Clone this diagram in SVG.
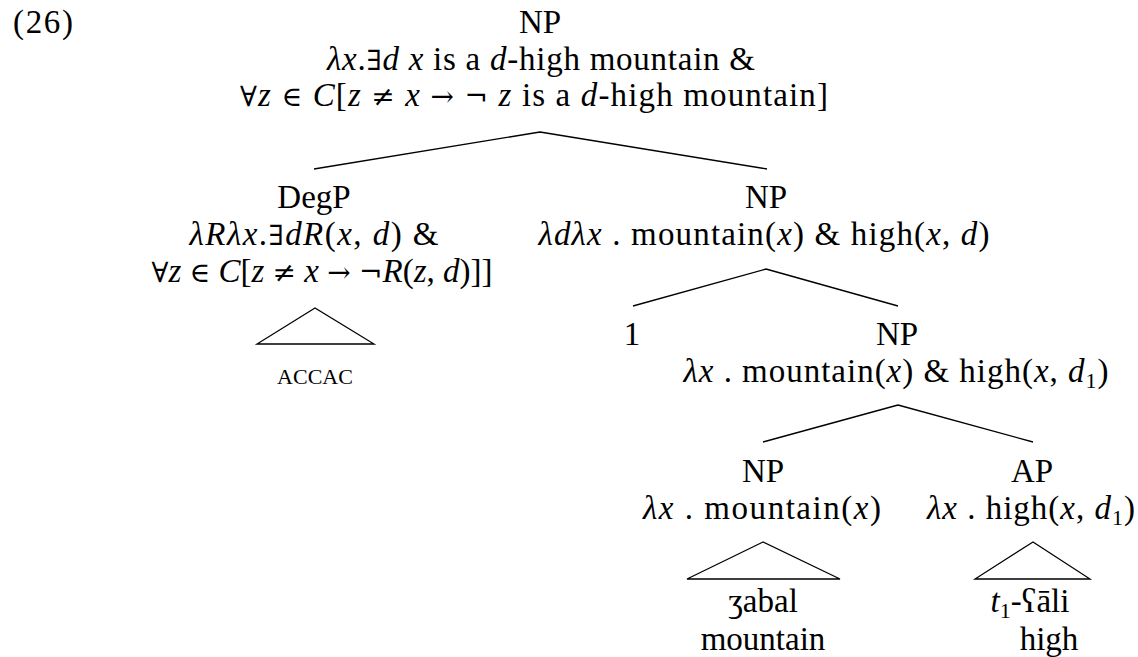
<svg xmlns="http://www.w3.org/2000/svg" width="1138" height="657" viewBox="0 0 1138 657">
<style>
text{font-family:"Liberation Serif","DejaVu Serif",serif;font-size:33px;fill:#000;text-anchor:middle}
.m{font-family:"DejaVu Serif","Liberation Serif",serif;font-size:28px}
.i{font-style:italic}
.sub{font-size:22px}
.sc{font-size:22px}
.edge{stroke:#000;stroke-width:1.3;fill:none}
.tri{stroke:#000;stroke-width:1.3;fill:none;stroke-linejoin:miter}
</style>
<rect width="1138" height="657" fill="#fff"/>
<text x="13" y="33" style="text-anchor:start" textLength="60" lengthAdjust="spacing">(26)</text>
<g id="connectors">
<path class="edge" d="M540 132 L314 169 M540 132 L767 169"/>
<path class="edge" d="M766 269 L633 306 M766 269 L898 306"/>
<path class="edge" d="M898 405 L763 442 M898 405 L1033 442"/>
<path class="tri" d="M315 308 L257 344 L374 344 Z"/>
<path class="tri" d="M763 542 L687 579 L840 579 Z"/>
<path class="tri" d="M1033 542 L975 579 L1090 579 Z"/>
</g>
<g id="root">
<text x="540" y="33">NP</text>
<text x="541" y="70" textLength="428" lengthAdjust="spacing"><tspan class="i">λx</tspan>.<tspan class="m">∃</tspan><tspan class="i">d x</tspan> is a <tspan class="i">d</tspan>-high mountain &amp;</text>
<text x="534" y="106" textLength="588" lengthAdjust="spacing"><tspan class="m">∀</tspan><tspan class="i">z</tspan> <tspan class="m">∈</tspan> <tspan class="i">C</tspan>[<tspan class="i">z</tspan> <tspan class="m">≠</tspan> <tspan class="i">x</tspan> <tspan class="m">→</tspan> <tspan class="m">¬</tspan> <tspan class="i">z</tspan> is a <tspan class="i">d</tspan>-high mountain]</text>
</g>
<g id="degp">
<text x="314" y="208">DegP</text>
<text x="314" y="245" textLength="249" lengthAdjust="spacing"><tspan class="i">λRλx</tspan>.<tspan class="m">∃</tspan><tspan class="i">dR</tspan>(<tspan class="i">x</tspan>, <tspan class="i">d</tspan>) &amp;</text>
<text x="322" y="282" textLength="341" lengthAdjust="spacing"><tspan class="m">∀</tspan><tspan class="i">z</tspan> <tspan class="m">∈</tspan> <tspan class="i">C</tspan>[<tspan class="i">z</tspan> <tspan class="m">≠</tspan> <tspan class="i">x</tspan> <tspan class="m">→</tspan> <tspan class="m">¬</tspan><tspan class="i">R</tspan>(<tspan class="i">z</tspan>, <tspan class="i">d</tspan>)]]</text>
</g>
<g id="accac">
<text class="sc" x="315" y="384">ACCAC</text>
</g>
<g id="np1">
<text x="766" y="208">NP</text>
<text x="764" y="245" textLength="451" lengthAdjust="spacing"><tspan class="i">λdλx</tspan> . mountain(<tspan class="i">x</tspan>) &amp; high(<tspan class="i">x</tspan>, <tspan class="i">d</tspan>)</text>
</g>
<g id="one">
<text x="632" y="345">1</text>
</g>
<g id="np2">
<text x="897" y="345">NP</text>
<text x="896" y="382" textLength="425" lengthAdjust="spacing"><tspan class="i">λx</tspan> . mountain(<tspan class="i">x</tspan>) &amp; high(<tspan class="i">x</tspan>, <tspan class="i">d</tspan><tspan class="sub" dy="6">1</tspan><tspan dy="-6">)</tspan></text>
</g>
<g id="np3">
<text x="763" y="482">NP</text>
<text x="762" y="519" textLength="238" lengthAdjust="spacing"><tspan class="i">λx</tspan> . mountain(<tspan class="i">x</tspan>)</text>
</g>
<g id="ap">
<text x="1032" y="482">AP</text>
<text x="1031" y="519" textLength="208" lengthAdjust="spacing"><tspan class="i">λx</tspan> . high(<tspan class="i">x</tspan>, <tspan class="i">d</tspan><tspan class="sub" dy="6">1</tspan><tspan dy="-6">)</tspan></text>
</g>
<g id="leaf-zabal">
<text x="763" y="612">ʒabal</text>
<text x="763" y="650">mountain</text>
</g>
<g id="leaf-ali">
<text x="1030" y="612"><tspan class="i">t</tspan><tspan class="sub" dy="6">1</tspan><tspan dy="-6">-ʕāli</tspan></text>
<text x="1049" y="650">high</text>
</g>
</svg>
